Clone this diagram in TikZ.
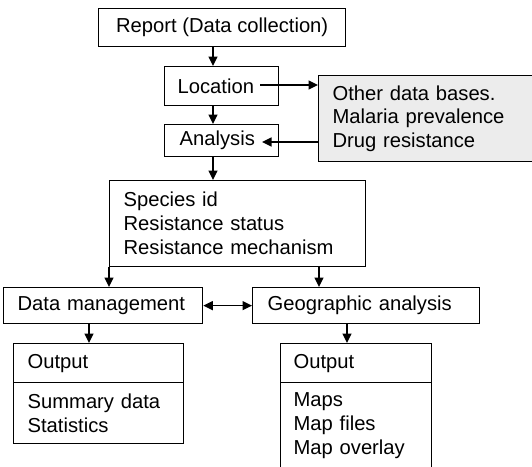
\documentclass[tikz,border=0pt]{standalone}
\usepackage{fontspec}
\setmainfont{Liberation Sans}
\usetikzlibrary{arrows.meta}
\begin{document}
\begin{tikzpicture}[x=1pt,y=-1pt,
  box/.style={draw, line width=1.3pt, inner ysep=0pt, anchor=north west,
    align=left, font=\fontsize{20.2}{24}\selectfont},
  arr/.style={line width=1.3pt, -{Triangle[length=9.5pt,width=9pt]}},
  darr/.style={line width=1.3pt, {Triangle[length=9.5pt,width=9pt]}-{Triangle[length=9.5pt,width=9pt]}}]
\useasboundingbox (0,0) rectangle (532,466);
\clip (0,0) rectangle (532,466);
\fill[white] (0,0) rectangle (532,466);
\node[box, inner xsep=0pt, align=center, minimum width=247pt, minimum height=38pt] (report) at (98,8) {Report (Data collection)};
\node[box, inner xsep=13pt, text width=88pt, minimum height=39pt] (loc) at (164,66) {Location};
\node[box, inner xsep=15pt, text width=84pt, minimum height=32pt] (ana) at (164,124) {Analysis};
\node[box, fill=gray!15, inner xsep=14pt, text width=194pt, minimum height=86pt, font=\fontsize{20.2}{23.5}\selectfont] (gray) at (318,75) {Other data bases.\\Malaria prevalence\\Drug resistance};
\node[box, inner xsep=14pt, text width=228pt, minimum height=86pt] (spec) at (109,180) {Species id\\Resistance status\\Resistance mechanism};
\node[box, inner xsep=14pt, text width=171pt, minimum height=36pt] (dm) at (3,287) {Data management};
\node[box, inner xsep=15pt, text width=197pt, minimum height=36pt] (ga) at (252,287) {Geographic analysis};
\node[box, inner xsep=14pt, text width=142pt, minimum height=39pt] (o1h) at (13,343) {Output};
\node[box, inner xsep=14pt, text width=142pt, minimum height=61pt] (o1b) at (13,382) {Summary data\\Statistics};
\node[box, inner xsep=13pt, text width=125pt, minimum height=39pt] (o2h) at (280,343) {Output};
\node[box, inner xsep=13pt, text width=125pt, minimum height=86pt] (o2b) at (280,382) {Maps\\Map files\\Map overlay};
\coordinate (ax) at (213,0);
\coordinate (l1) at (260,85);
\coordinate (a1) at (262,142);
\coordinate (gx) at (319,0);
\coordinate (dx) at (89,0);
\coordinate (ox) at (347,0);
\draw[arr] (report.south -| ax) -- (loc.north -| ax);
\draw[arr] (loc.south -| ax) -- (ana.north -| ax);
\draw[arr] (ana.south -| ax) -- (spec.north -| ax);
\draw[arr] (l1) -- (gray.west |- l1);
\draw[arr] (gray.west |- a1) -- (a1);
\draw[arr] (spec.south west) -- (spec.south west |- dm.north);
\draw[arr] (spec.south -| gx) -- (ga.north -| gx);
\draw[darr] (dm.east) -- (ga.west);
\draw[arr] (dm.south -| dx) -- (o1h.north -| dx);
\draw[arr] (ga.south -| ox) -- (o2h.north -| ox);
\end{tikzpicture}
\end{document}
